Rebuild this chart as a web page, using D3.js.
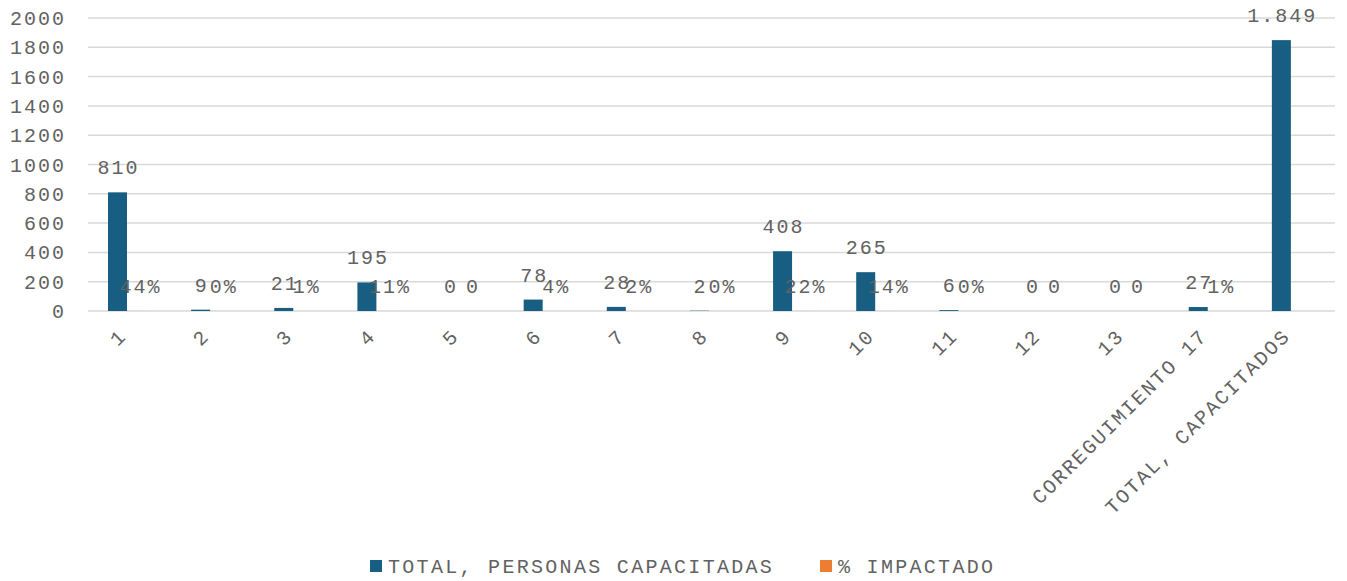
<!DOCTYPE html>
<html>
<head>
<meta charset="utf-8">
<script src="https://d3js.org/d3.v7.min.js"></script>
<style>
  body { margin: 0; background: #fff; }
  text { font-family: "Liberation Mono", "DejaVu Sans Mono", monospace; fill: #626262; }
</style>
</head>
<body>
<svg></svg>
<script>
  const width = 1347;
  const height = 581;

  const categories = ["1", "2", "3", "4", "5", "6", "7", "8", "9", "10", "11", "12", "13",
    "CORREGUIMIENTO 17", "TOTAL, CAPACITADOS"];
  const personas = [810, 9, 21, 195, 0, 78, 28, 2, 408, 265, 6, 0, 0, 27, 1849];
  const impactado = [0.44, 0.004, 0.01, 0.11, 0, 0.04, 0.02, 0.001, 0.22, 0.14, 0.003, 0, 0, 0.01, null];
  const yTicks = [0, 200, 400, 600, 800, 1000, 1200, 1400, 1600, 1800, 2000];
  const seriesNames = ["TOTAL, PERSONAS CAPACITADAS", "% IMPACTADO"];
  const colors = ["#175e82", "#ed7d31"];

  const margin = { top: 18, right: 12, bottom: 270, left: 88 };
  const svg = d3.select('svg').attr('width', width).attr('height', height);

  const x = d3.scaleBand().domain(categories)
      .range([margin.left, width - margin.right]);
  const y = d3.scaleLinear().domain([0, 2000])
      .range([height - margin.bottom, margin.top]);
  const barW = 19;
  const inner = 20;

  // gridlines
  svg.append('g').selectAll('line')
      .data(yTicks).enter().append('line')
      .attr('x1', margin.left).attr('x2', width - margin.right)
      .attr('y1', d => y(d)).attr('y2', d => y(d))
      .style('stroke', '#d9d9d9').style('stroke-width', '1.5px');

  // y labels
  svg.append('g').selectAll('text')
      .data(yTicks).enter().append('text')
      .attr('x', 66).attr('y', d => y(d) + 7)
      .attr('text-anchor', 'end')
      .style('font-size', '20px').style('letter-spacing', '2px')
      .text(d => d);

  // bars
  svg.append('g').selectAll('rect')
      .data(personas).enter().append('rect')
      .attr('x', (d, i) => x(categories[i]) + inner)
      .attr('y', d => y(d))
      .attr('width', barW)
      .attr('height', d => y(0) - y(d))
      .style('fill', colors[0]);

  // % impactado bars (tiny on this scale)
  svg.append('g').selectAll('rect')
      .data(impactado).enter().append('rect')
      .attr('x', (d, i) => x(categories[i]) + inner + barW)
      .attr('y', d => y(d || 0))
      .attr('width', barW)
      .attr('height', d => y(0) - y(d || 0))
      .style('fill', colors[1]);

  // value labels
  const fmt = d3.formatLocale({ decimal: ',', thousands: '.', grouping: [3], currency: ['$', ''] }).format(',');
  svg.append('g').selectAll('text')
      .data(personas).enter().append('text')
      .attr('x', (d, i) => x(categories[i]) + inner + barW / 2 + 1)
      .attr('y', d => y(d) - 18)
      .attr('text-anchor', 'middle')
      .style('font-size', '20px').style('letter-spacing', '2px')
      .text(d => fmt(d));

  svg.append('g').selectAll('text')
      .data(impactado.filter(d => d !== null)).enter().append('text')
      .attr('x', (d, i) => x(categories[i]) + inner + barW * 1.5 + 4)
      .attr('y', d => y(d) - 18)
      .attr('text-anchor', 'middle')
      .style('font-size', '20px').style('letter-spacing', '2px')
      .text(d => d === 0 ? '0' : Math.round(d * 100) + '%');

  // x labels
  svg.append('g').selectAll('text')
      .data(categories).enter().append('text')
      .attr('transform', d => `translate(${x(d) + x.bandwidth() / 2 - 2},${y(0) + 26}) rotate(-45)`)
      .attr('text-anchor', 'end')
      .style('font-size', '20px').style('letter-spacing', '2px')
      .text(d => d);

  // legend
  const legend = svg.append('g');
  const legendX = [370, 820];
  seriesNames.forEach((name, i) => {
    legend.append('rect')
        .attr('x', legendX[i]).attr('y', 560)
        .attr('width', 12).attr('height', 12)
        .style('fill', colors[i]);
    legend.append('text')
        .attr('x', legendX[i] + 18).attr('y', 573)
        .style('font-size', '20px').style('letter-spacing', '2.3px')
        .text(name);
  });
</script>
</body>
</html>
